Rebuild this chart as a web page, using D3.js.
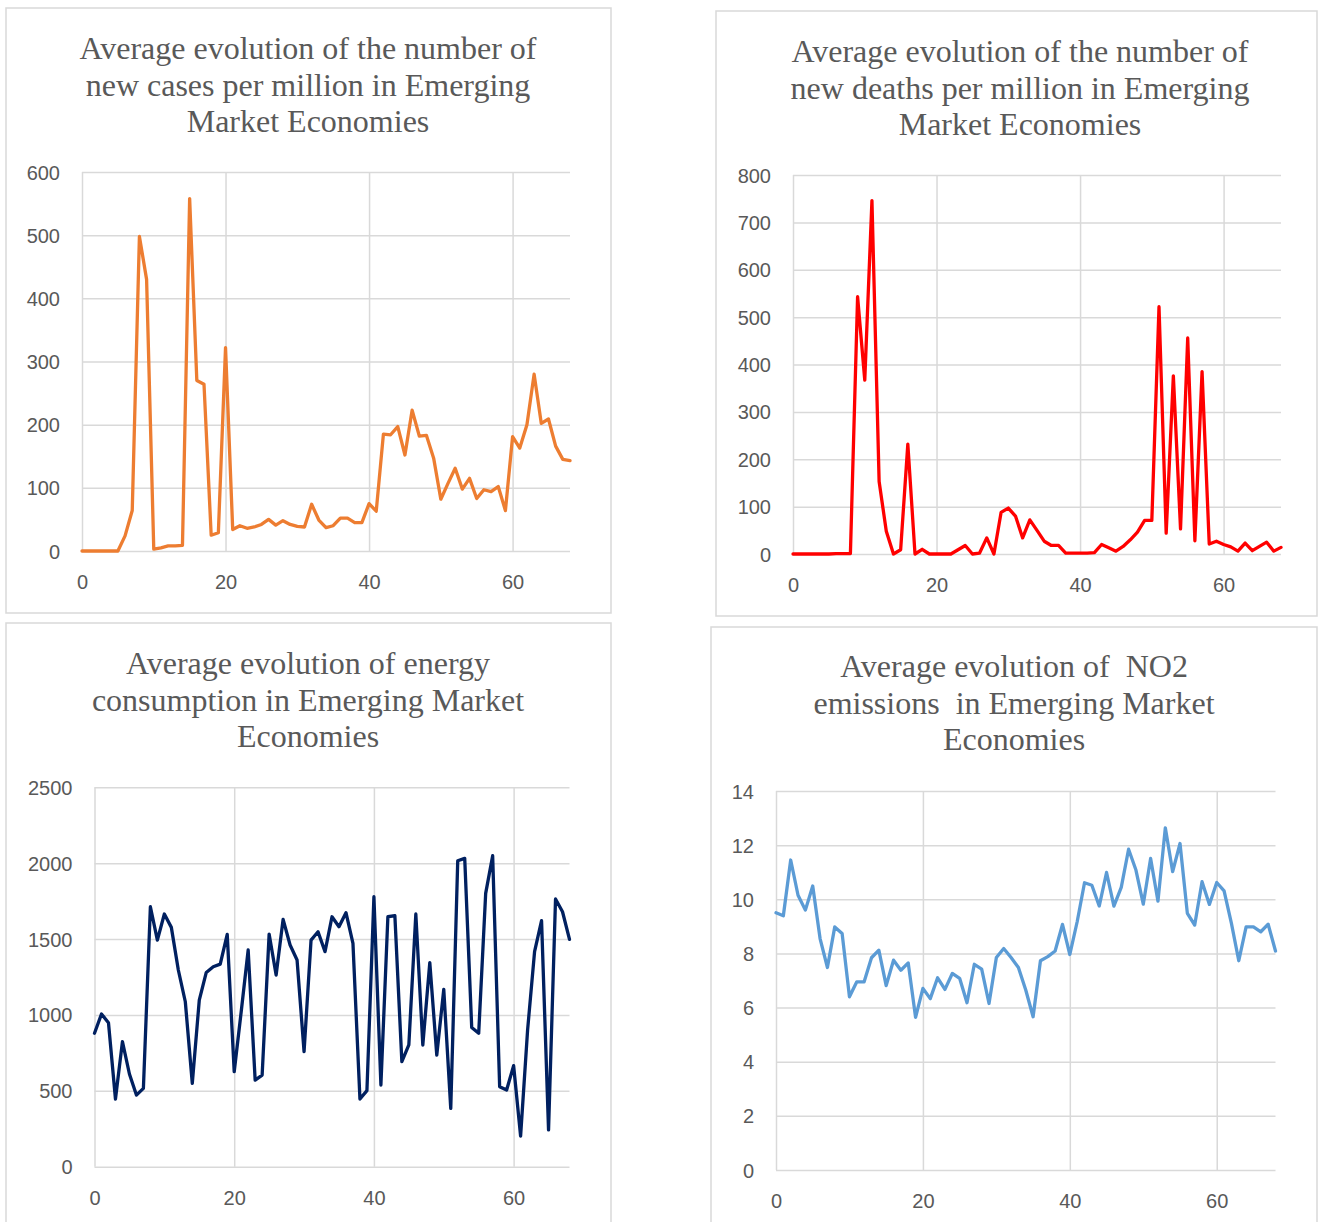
<!DOCTYPE html>
<html>
<head>
<meta charset="utf-8">
<script src="https://cdn.jsdelivr.net/npm/d3@7"></script>
<style>
  html, body { margin: 0; padding: 0; background: #ffffff; }
  svg { display: block; }
  .title { font-family: "Liberation Serif", "Times New Roman", serif; fill: #595959; white-space: pre; }
  .tick text { font-family: "Liberation Sans", Arial, sans-serif; fill: #595959; }
</style>
</head>
<body>
<svg id="chart" width="1318" height="1222"></svg>
<script>
// ---------- data ----------
const days = d3.range(0, 69);
const xTicks = [0, 20, 40, 60];

const newCases = [0,0,0,0,0,0,24,64,498,430,3,5,8,8,9,558,270,264,25,29,322,34,40,36,38,42,50,41,48,42,39,38,74,49,37,40,52,52,45,45,75,63,185,184,197,152,223,182,183,147,82,107,131,98,115,83,97,94,102,64,181,163,200,280,202,209,166,145,143];
const newDeaths = [0,0,0,0,0,0,1,1,1,543,367,746,153,48,0,9,232,0,10,0,0,0,0,9,18,0,2,34,0,88,97,80,34,72,50,27,18,18,2,2,2,2,3,20,13,6,16,30,46,71,71,522,44,376,53,456,28,385,21,27,20,15,6,23,7,16,25,6,14];
const energy = [879,1006,949,446,824,611,472,516,1713,1493,1665,1577,1296,1087,549,1098,1280,1318,1335,1531,626,1021,1428,571,604,1533,1263,1630,1461,1362,758,1493,1548,1417,1647,1581,1674,1472,446,501,1779,538,1647,1654,692,802,1665,802,1344,736,1168,384,2016,2032,918,879,1801,2049,527,505,666,202,900,1417,1621,242,1764,1680,1498];
const no2 = [9.50,9.39,11.45,10.15,9.6,10.49,8.55,7.48,8.98,8.74,6.4,6.95,6.95,7.84,8.12,6.81,7.75,7.38,7.65,5.64,6.71,6.33,7.1,6.67,7.26,7.08,6.18,7.6,7.42,6.15,7.85,8.18,7.85,7.48,6.65,5.66,7.73,7.88,8.09,9.07,7.96,9.17,10.61,10.52,9.75,10.99,9.75,10.44,11.85,11.08,9.82,11.51,9.93,12.64,11.02,12.06,9.48,9.05,10.65,9.81,10.62,10.31,9.11,7.73,8.98,8.98,8.8,9.08,8.09];

const casesTicks = [0,100,200,300,400,500,600];
const deathsTicks = [0,100,200,300,400,500,600,700,800];
const energyTicks = [0,500,1000,1500,2000,2500];
const no2Ticks = [0,2,4,6,8,10,12,14];

const titleCases = ["Average evolution of the number of", "new cases per million in Emerging", "Market Economies"];
const titleDeaths = ["Average evolution of the number of", "new deaths per million in Emerging", "Market Economies"];
const titleEnergy = ["Average evolution of energy", "consumption in Emerging Market", "Economies"];
const titleNo2 = ["Average evolution of  NO2", "emissions  in Emerging Market", "Economies"];

// ---------- drawing ----------
const svg = d3.select("#chart");

function drawPanel(cfg) {
  const g = svg.append("g");
  // frame
  g.append("rect")
    .attr("x", cfg.box[0]).attr("y", cfg.box[1])
    .attr("width", cfg.box[2]).attr("height", cfg.box[3])
    .attr("fill", "#ffffff").attr("stroke", "#d9d9d9").attr("stroke-width", 1.5);

  // title
  const t = g.append("text").attr("class", "title")
    .attr("text-anchor", "middle").attr("font-size", 32);
  cfg.title.forEach((line, i) => {
    t.append("tspan").attr("x", cfg.titleX).attr("y", cfg.titleY + i * 36.5).text(line);
  });

  const x = d3.scaleLinear().domain([0, 68]).range([cfg.plot[0], cfg.plot[1]]);
  const y = d3.scaleLinear().domain([0, cfg.yMax]).range([cfg.plot[2], cfg.plot[3]]);

  // horizontal gridlines + y labels
  const yAxis = d3.axisLeft(y).tickValues(cfg.yTicks)
    .tickSize(-(cfg.plot[1] - cfg.plot[0])).tickPadding(22).tickFormat(d3.format("d"));
  const ya = g.append("g").attr("transform", `translate(${cfg.plot[0]},0)`).call(yAxis);
  ya.select(".domain").remove();
  ya.selectAll(".tick line").attr("stroke", "#d9d9d9").attr("stroke-width", 1.5);
  ya.selectAll(".tick text").attr("font-size", 20).attr("dy", "0.35em");

  // vertical gridlines + x labels
  const xAxis = d3.axisBottom(x).tickValues(xTicks)
    .tickSize(-(cfg.plot[2] - cfg.plot[3])).tickPadding(24).tickFormat(d3.format("d"));
  const xa = g.append("g").attr("transform", `translate(0,${cfg.plot[2]})`).call(xAxis);
  xa.select(".domain").remove();
  xa.selectAll(".tick line").attr("stroke", "#d9d9d9").attr("stroke-width", 1.5);
  xa.selectAll(".tick text").attr("font-size", 20);

  // line
  const line = d3.line().x((d, i) => x(days[i])).y(d => y(d));
  g.append("path").datum(cfg.values)
    .attr("d", line).attr("fill", "none")
    .attr("stroke", cfg.color).attr("stroke-width", 3.3)
    .attr("stroke-linejoin", "round").attr("stroke-linecap", "round");
}

drawPanel({ box: [6, 8, 605, 605], title: titleCases, titleX: 308, titleY: 59,
  plot: [82, 570, 551, 172], yMax: 600, yTicks: casesTicks, values: newCases, color: "#ED7D31" });
drawPanel({ box: [716, 11, 601, 605], title: titleDeaths, titleX: 1020, titleY: 62,
  plot: [793, 1281, 554, 175], yMax: 800, yTicks: deathsTicks, values: newDeaths, color: "#FF0000" });
drawPanel({ box: [6, 623, 605, 620], title: titleEnergy, titleX: 308, titleY: 674,
  plot: [94.5, 569.5, 1166.7, 787.3], yMax: 2500, yTicks: energyTicks, values: energy, color: "#002060" });
drawPanel({ box: [711, 627, 606, 620], title: titleNo2, titleX: 1014, titleY: 677,
  plot: [776, 1275.5, 1170, 791], yMax: 14, yTicks: no2Ticks, values: no2, color: "#5B9BD5" });
</script>
</body>
</html>
